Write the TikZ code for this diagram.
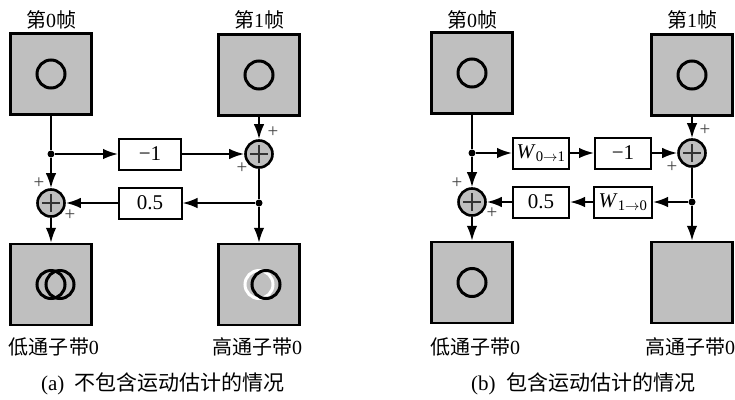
\documentclass[tikz,border=0pt]{standalone}
\usepackage{fontspec}
\setmainfont{Liberation Serif}
\newfontfamily\cjk{Noto Sans CJK SC}
\usetikzlibrary{arrows.meta,positioning}
\newcommand{\zh}[1]{{\cjk #1}}
\definecolor{framegray}{gray}{0.75}

\begin{document}
\begin{tikzpicture}[x=1pt, y=-1pt,
    frame/.style={draw, fill=framegray, line width=2.4pt, minimum width=81pt,
      minimum height=81pt, inner sep=0pt},
    gain/.style={draw, fill=white, line width=2pt, minimum height=31pt,
      inner sep=0pt, font=\fontsize{21}{24}\selectfont},
    adder/.style={draw, circle, fill=framegray, line width=2.6pt, minimum size=27pt,
      inner sep=0pt, path picture={\draw[line width=1.8pt, black!80]
        ([xshift=-9pt]path picture bounding box.center) -- ([xshift=9pt]path picture bounding box.center)
        ([yshift=-9pt]path picture bounding box.center) -- ([yshift=9pt]path picture bounding box.center);}},
    sign/.style={font=\fontsize{19}{20}\selectfont, inner sep=0pt, text=black!75},
    lbl/.style={font=\fontsize{20}{23}\selectfont},
    captext/.style={font=\fontsize{21}{24}\selectfont},
    ring/.style={line width=3pt},
    dot/.style={circle, fill, inner sep=0pt, minimum size=7pt},
    flow/.style={line width=2pt, -{Latex[length=15pt,width=10.5pt]}},
    wire/.style={line width=2pt}]
  \useasboundingbox (0,0) rectangle (735,399);

  % (a)
  \node[frame] (f0a) at (51,74) {};
  \node[frame] (f1a) at (259,75) {};
  \node[frame] (la) at (51,284.5) {};
  \node[frame] (ha) at (259,284.5) {};
  \draw[ring] (f0a.center) circle (14pt);
  \draw[ring] (f1a.center) circle (14pt);
  \draw[ring] (la.center) circle (14pt);
  \draw[ring] ([xshift=9pt]la.center) circle (14pt);
  \draw[ring, white] (ha.center) circle (14pt);
  \draw[ring] ([xshift=7pt]ha.center) circle (14pt);
  \node[lbl] (t0a) at (51,20) {\zh{第}0\zh{帧}};
  \node[lbl] (t1a) at (259,20) {\zh{第}1\zh{帧}};
  \node[lbl] (lowa) at (54,347) {\zh{低通子带}0};
  \node[lbl] (higha) at (257,347) {\zh{高通子带}0};
  \node[captext] (capa) at (163,384) {(a)\hspace{0.5em}\zh{不包含运动估计的情况}};

  \node[gain, minimum width=62pt] (m1a) at (150,154) {−1};
  \node[gain, minimum width=63pt] (h5a) at (150,203) {0.5};
  \node[adder] (sa1) at (259,154) {};
  \node[adder] (sa0) at (51,203) {};
  \node[dot] (ja0) at (51,154) {};
  \node[dot] (ja1) at (259,203) {};
  \node[sign] at ([xshift=14pt,yshift=22pt]sa1.center) {+};
  \node[sign] at ([xshift=-17pt,yshift=-14pt]sa1.center) {+};
  \node[sign] at ([xshift=-12pt,yshift=20pt]sa0.center) {+};
  \node[sign] at ([xshift=19pt,yshift=-12pt]sa0.center) {+};

  \draw[wire] (f0a) -- (ja0);
  \draw[flow] (ja0) -- (sa0);
  \draw[flow] (ja0) -- (m1a);
  \draw[flow] (m1a) -- (sa1);
  \draw[flow] (f1a) -- (sa1);
  \draw[wire] (sa1) -- (ja1);
  \draw[flow] (ja1) -- (ha);
  \draw[flow] (ja1) -- (h5a);
  \draw[flow] (h5a) -- (sa0);
  \draw[flow] (sa0) -- (la);

  % (b)
  \node[frame] (f0b) at (472,73) {};
  \node[frame] (f1b) at (692,75) {};
  \node[frame] (lb) at (472,282.5) {};
  \node[frame] (hb) at (692,282.5) {};
  \draw[ring] (f0b.center) circle (14pt);
  \draw[ring] (f1b.center) circle (14pt);
  \draw[ring] (lb.center) circle (14pt);
  \node[lbl] (t0b) at (472,20) {\zh{第}0\zh{帧}};
  \node[lbl] (t1b) at (692,20) {\zh{第}1\zh{帧}};
  \node[lbl] (lowb) at (475,347) {\zh{低通子带}0};
  \node[lbl] (highb) at (690,347) {\zh{高通子带}0};
  \node[captext] (capb) at (583,384) {(b)\hspace{0.5em}\zh{包含运动估计的情况}};

  \node[gain, minimum width=56pt] (wb01) at (541,153) {\textit{W}\textsubscript{0$\to$1}};
  \node[gain, minimum width=56pt] (m1b) at (623,153) {−1};
  \node[gain, minimum width=56pt] (h5b) at (541,202) {0.5};
  \node[gain, minimum width=58pt] (wb10) at (623,202) {\textit{W}\textsubscript{1$\to$0}};
  \node[adder] (sb1) at (692,153) {};
  \node[adder] (sb0) at (472,202) {};
  \node[dot] (jb0) at (472,153) {};
  \node[dot] (jb1) at (692,202) {};
  \node[sign] at ([xshift=13pt,yshift=23pt]sb1.center) {+};
  \node[sign] at ([xshift=-20pt,yshift=-14pt]sb1.center) {+};
  \node[sign] at ([xshift=-15pt,yshift=19pt]sb0.center) {+};
  \node[sign] at ([xshift=20pt,yshift=-11pt]sb0.center) {+};

  \draw[wire] (f0b) -- (jb0);
  \draw[flow] (jb0) -- (sb0);
  \draw[flow] (jb0) -- (wb01);
  \draw[flow] (wb01) -- (m1b);
  \draw[flow] (m1b) -- (sb1);
  \draw[flow] (f1b) -- (sb1);
  \draw[wire] (sb1) -- (jb1);
  \draw[flow] (jb1) -- (hb);
  \draw[flow] (jb1) -- (wb10);
  \draw[flow] (wb10) -- (h5b);
  \draw[flow] (h5b) -- (sb0);
  \draw[flow] (sb0) -- (lb);
\end{tikzpicture}
\end{document}
